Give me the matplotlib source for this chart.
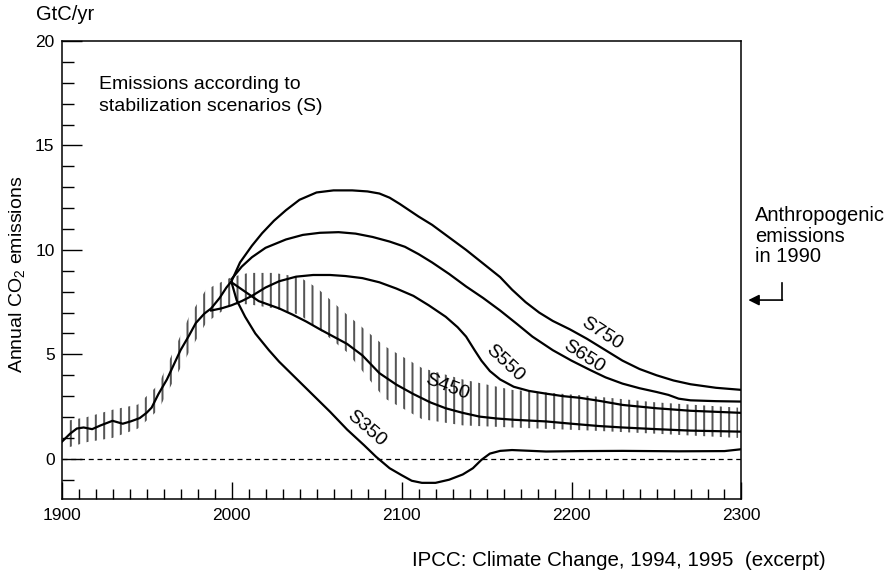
import matplotlib
matplotlib.use("Agg")
import matplotlib.pyplot as plt

plt.rcParams["font.family"] = ["Liberation Sans", "DejaVu Sans"]
plt.rcParams["mathtext.fontset"] = "custom"
plt.rcParams["mathtext.rm"] = "Liberation Sans"
plt.rcParams["mathtext.it"] = "Liberation Sans:italic"
plt.rcParams["hatch.linewidth"] = 1.44

# historical emissions, GtC/yr
history_years = [1900, 1905, 1909, 1913, 1918, 1923, 1930, 1936, 1941, 1946, 1950,
                 1953, 1957, 1962, 1966, 1970, 1975, 1979, 1984, 1988, 1993, 1997, 2000]
history_vals = [0.8, 1.2, 1.45, 1.5, 1.42, 1.6, 1.82, 1.68, 1.8, 1.95, 2.2,
                2.45, 3.1, 3.8, 4.5, 5.2, 5.9, 6.5, 6.95, 7.2, 7.7, 8.2, 8.5]

s750_years = [2000, 2005, 2012, 2018, 2025, 2032, 2040, 2050, 2060, 2071, 2080, 2087,
              2093, 2099, 2110, 2118, 2128, 2138, 2148, 2158, 2165, 2173, 2181, 2189,
              2199, 2209, 2220, 2230, 2240, 2250, 2260, 2270, 2285, 2300]
s750_vals = [8.5, 9.4, 10.2, 10.8, 11.4, 11.9, 12.4, 12.75, 12.85, 12.85, 12.8, 12.7,
             12.5, 12.2, 11.6, 11.2, 10.6, 10.0, 9.35, 8.7, 8.1, 7.5, 7.0, 6.6,
             6.2, 5.75, 5.2, 4.7, 4.3, 4.0, 3.75, 3.57, 3.4, 3.3]

s650_years = [2000, 2006, 2012, 2020, 2032, 2042, 2052, 2063, 2073, 2083, 2093, 2102,
              2110, 2118, 2128, 2138, 2148, 2158, 2168, 2177, 2189, 2200, 2211, 2220,
              2230, 2240, 2250, 2257, 2263, 2270, 2285, 2300]
s650_vals = [8.6, 9.2, 9.65, 10.1, 10.5, 10.72, 10.82, 10.85, 10.78, 10.62, 10.4, 10.15,
             9.8, 9.4, 8.85, 8.25, 7.7, 7.1, 6.45, 5.85, 5.2, 4.7, 4.25, 3.9,
             3.6, 3.38, 3.2, 3.06, 2.88, 2.8, 2.76, 2.74]

s550_years = [1988, 1994, 2000, 2006, 2012, 2020, 2028, 2038, 2048, 2058, 2067, 2077,
              2087, 2097, 2107, 2116, 2126, 2133, 2138, 2143, 2147, 2152, 2158, 2166,
              2175, 2185, 2195, 2205, 2216, 2230, 2250, 2270, 2300]
s550_vals = [7.1, 7.2, 7.35, 7.55, 7.8, 8.2, 8.5, 8.72, 8.8, 8.8, 8.75, 8.65,
             8.45, 8.15, 7.8, 7.35, 6.8, 6.3, 5.85, 5.2, 4.7, 4.2, 3.8, 3.45,
             3.25, 3.12, 3.0, 2.92, 2.78, 2.58, 2.42, 2.3, 2.2]

s450_years = [2000, 2008, 2016, 2028, 2036, 2044, 2052, 2060, 2068, 2077, 2087, 2097,
              2107, 2117, 2126, 2136, 2146, 2156, 2166, 2185, 2200, 2216, 2230, 2250,
              2270, 2300]
s450_vals = [8.45, 8.0, 7.55, 7.2, 6.9, 6.57, 6.2, 5.85, 5.5, 4.95, 4.1, 3.55,
             3.1, 2.7, 2.42, 2.2, 2.02, 1.93, 1.87, 1.79, 1.68, 1.57, 1.5, 1.42,
             1.35, 1.3]

s350_years = [2000, 2003, 2008, 2014, 2022, 2028, 2038, 2048, 2058, 2068, 2078, 2085,
              2093, 2100, 2106, 2112, 2120, 2128, 2136, 2142, 2147, 2152, 2158, 2165,
              2185, 2205, 2230, 2263, 2290, 2300]
s350_vals = [8.45, 7.6, 6.8, 6.0, 5.2, 4.65, 3.85, 3.05, 2.25, 1.4, 0.65, 0.1,
             -0.45, -0.78, -1.05, -1.15, -1.15, -1.0, -0.75, -0.45, -0.05, 0.25, 0.38, 0.42,
             0.35, 0.37, 0.38, 0.36, 0.37, 0.46]

# uncertainty band (hatched)
band_years = [1902, 1915, 1930, 1945, 1957, 1965, 1975, 1985, 2000, 2010, 2025, 2040,
              2050, 2068, 2090, 2112, 2136, 2165, 2212, 2250, 2298]
band_low = [0.5, 0.8, 1.0, 1.45, 2.35, 3.6, 5.1, 6.5, 7.4, 7.4, 7.2, 6.9,
            6.3, 5.1, 2.9, 1.9, 1.6, 1.5, 1.35, 1.2, 1.0]
band_high = [1.8, 2.0, 2.35, 2.6, 3.55, 5.0, 6.8, 8.1, 8.7, 8.9, 8.9, 8.7,
             8.2, 6.9, 5.4, 4.35, 3.8, 3.3, 3.0, 2.7, 2.45]

# curve labels: text, year, value, rotation
labels = ["S750", "S650", "S550", "S450", "S350"]
label_x = [2218, 2207, 2161, 2127, 2079]
label_y = [5.98, 4.88, 4.58, 3.42, 1.45]
label_rot = [-33, -33, -43, -21, -41]

fig = plt.figure(figsize=(8.84, 5.73), dpi=100)
ax = fig.add_axes([0.0696, 0.130, 0.7692, 0.7984])

ax.fill_between(band_years, band_low, band_high, facecolor="none",
                edgecolor="#555555", hatch="||", linewidth=0)

ax.axhline(0, color="black", lw=0.9, ls=(0, (4, 3)))

lw = 1.6
ax.plot(history_years, history_vals, color="black", lw=lw)
ax.plot(s750_years, s750_vals, color="black", lw=lw)
ax.plot(s650_years, s650_vals, color="black", lw=lw)
ax.plot(s550_years, s550_vals, color="black", lw=lw)
ax.plot(s450_years, s450_vals, color="black", lw=lw)
ax.plot(s350_years, s350_vals, color="black", lw=lw)

for t, x, y, r in zip(labels, label_x, label_y, label_rot):
    ax.text(x, y, t, rotation=r, ha="center", va="center", fontsize=14,
            rotation_mode="anchor")

ax.set_xlim(1900, 2300)
ax.set_ylim(-1.9, 20)
ax.set_xticks([1900, 2000, 2100, 2200, 2300])
ax.set_xticks(range(1910, 2300, 10), minor=True)
ax.set_yticks([0, 5, 10, 15, 20])
ax.set_yticks(range(-1, 20), minor=True)
ax.tick_params(axis="x", which="major", direction="in", length=12, width=1,
               labelsize=12.5, pad=7)
ax.tick_params(axis="x", which="minor", direction="in", length=7.5, width=1)
ax.tick_params(axis="y", which="major", direction="in", length=14.5, width=1,
               labelsize=12.5, pad=5)
ax.tick_params(axis="y", which="minor", direction="in", length=8.5, width=1)
for sp in ax.spines.values():
    sp.set_linewidth(1.1)

ax.text(1922, 17.9, "Emissions according to", fontsize=14, va="center")
ax.text(1922, 16.85, "stabilization scenarios (S)", fontsize=14, va="center")

fig.text(17 / 884, 1 - 274 / 573, "Annual CO$_2$ emissions", rotation=90,
         ha="center", va="center", fontsize=14)
fig.text(36 / 884, 1 - 15 / 573, "GtC/yr", ha="left", va="center", fontsize=14.5)
fig.text(755 / 884, 1 - 236 / 573, "Anthropogenic\nemissions\nin 1990",
         ha="left", va="center", fontsize=14.5, linespacing=1.1)
fig.text(826 / 884, 1 - 561 / 573, "IPCC: Climate Change, 1994, 1995  (excerpt)",
         ha="right", va="center", fontsize=14.8)

# arrow pointing at the 1990 level
ax.plot([2323.6, 2323.6], [8.42, 7.6], color="black", lw=1.2, clip_on=False)
ax.annotate("", xy=(2304, 7.6), xytext=(2324.1, 7.6),
            arrowprops=dict(arrowstyle="-|>", color="black", lw=1.2,
                            mutation_scale=16, shrinkA=0, shrinkB=0),
            annotation_clip=False)

fig.savefig("out.png", dpi=100)
